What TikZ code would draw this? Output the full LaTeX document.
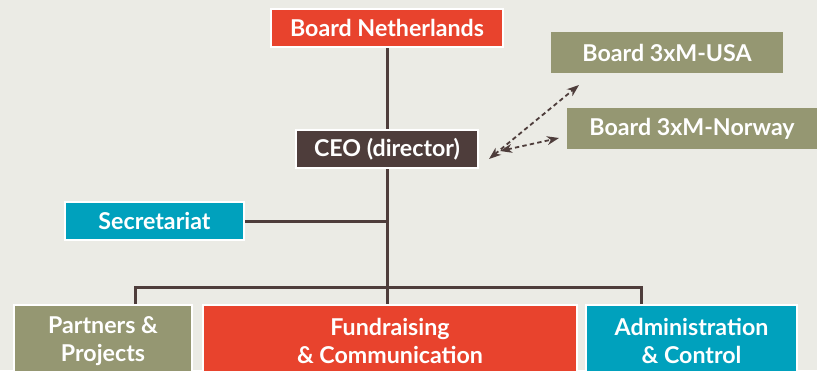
\documentclass[tikz,border=0pt]{standalone}
\usepackage{fontspec}
\setmainfont{Lato}
\usetikzlibrary{arrows.meta}
\definecolor{bggray}{HTML}{EBEBE5}
\definecolor{boardred}{HTML}{E8432D}
\definecolor{olive}{HTML}{959772}
\definecolor{ceobrown}{HTML}{4E3D3B}
\definecolor{secblue}{HTML}{00A1BD}
\begin{document}
\begin{tikzpicture}[x=0.5pt,y=-0.5pt,
    box/.style={rectangle,text=white,font=\bfseries\fontsize{11.6}{13.8}\selectfont,inner sep=0pt,align=center},
    framed/.style={box,draw=white,line width=1.2pt},
    link/.style={draw=ceobrown,line width=1.5pt},
    dashlink/.style={draw=ceobrown,line width=0.9pt,dash pattern=on 2.2pt off 1.6pt,
        {Stealth[length=6pt,width=4.4pt,inset=1.8pt]}-{Stealth[length=6pt,width=4.4pt,inset=1.8pt]}}]
        %% Background
        \path[use as bounding box,fill=bggray] (0,0) rectangle (817,370);
        \clip (0,0) rectangle (817,370);
        %% Boards
        \node[framed,fill=boardred,minimum width=116pt,minimum height=19pt] (nl) at (387,28) {Board Netherlands};
        \node[box,fill=olive,minimum width=116pt,minimum height=20.5pt] (usa) at (667,52.5) {Board 3xM-USA};
        \node[box,fill=olive,minimum width=125pt,minimum height=20.5pt] (nor) at (692,128.5) {Board 3xM-Norway};
        %% Director and secretariat
        \node[framed,fill=ceobrown,minimum width=91pt,minimum height=19pt] (ceo) at (387,149) {CEO (director)};
        \node[framed,fill=secblue,minimum width=89.5pt,minimum height=19pt] (sec) at (154.5,221) {Secretariat};
        %% Departments
        \node[framed,fill=olive,minimum width=89pt,minimum height=36pt,anchor=north] (pp) at (103,304) {Partners \&\\Projects};
        \node[framed,fill=boardred,minimum width=187pt,minimum height=36pt,anchor=north] (fc) at (390,304) {Fundraising\\\& Communication};
        \node[framed,fill=secblue,minimum width=105.5pt,minimum height=36pt,anchor=north] (ac) at (691.5,304) {Administration\\\& Control};
        %% Lines
        \coordinate (bus) at (388,287);
        \coordinate (busl) at (135,287);
        \coordinate (busr) at (641,287);
        \draw[link] (nl) -- (ceo);
        \draw[link] (ceo) -- (ceo |- fc.north);
        \draw[link] (sec) -- (sec -| bus);
        \draw[link] (busl |- pp.north) -- (busl) -- (busr) -- (busr |- ac.north);
        %% Dashed arrows
        \coordinate (ceoa) at (489,159);
        \coordinate (usaa) at (579,85);
        \coordinate (ceob) at (500,151);
        \coordinate (nora) at (559,138);
        \draw[dashlink] (ceoa) -- (usaa);
        \draw[dashlink] (ceob) -- (nora);
    \end{tikzpicture}
\end{document}
